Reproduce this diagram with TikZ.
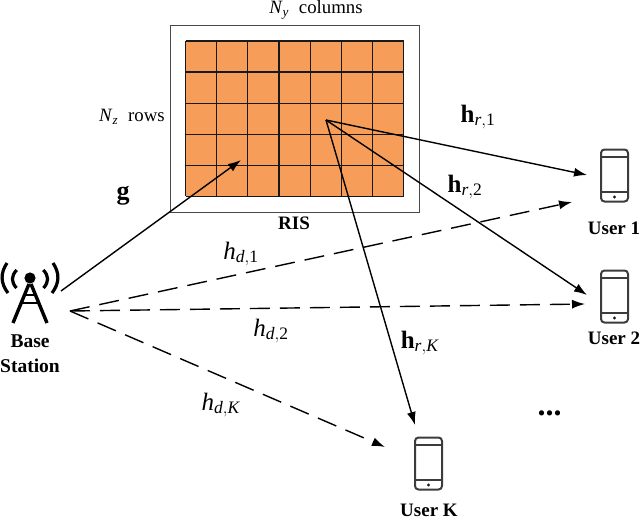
\documentclass[tikz,border=0pt]{standalone}
\usepackage{amsmath}
\usepackage{fontspec}
\setmainfont{Liberation Serif}
\usetikzlibrary{arrows.meta}
\newcommand{\hbf}[2]{$\text{\textbf{h}}_{\text{\textit{#1}},\text{#2}}$}
\newcommand{\hit}[2]{$\text{\textit{h}}_{\text{\textit{#1}},\text{#2}}$}
\definecolor{risorange}{HTML}{F79D5A}
\definecolor{ink}{HTML}{1A1A1A}
\tikzset{
  x=1pt,y=-1pt,
  link/.style={draw=black,line width=1.4pt,-{Latex[length=13pt,width=9pt]}},
  dlink/.style={link,dash pattern=on 20pt off 10pt},
  lab/.style={inner sep=0pt,font=\fontsize{25}{27}\selectfont},
  boldcap/.style={inner sep=0pt,font=\fontsize{19}{21}\selectfont\bfseries},
  dimtext/.style={inner sep=0pt,font=\fontsize{18.8}{21}\selectfont},
  phoneline/.style={draw=ink!85!white,line width=2pt},
  cellline/.style={draw=black!90,line width=1.2pt},
}
\newcommand{\phone}[3]{%
  \node[phoneline,rounded corners=3.5pt,minimum width=27pt,minimum height=52pt,inner sep=0pt] (#3) at (#1,#2) {};
  \draw[phoneline] ([yshift=-8pt]#3.north west) -- ([yshift=-8pt]#3.north east);
  \draw[phoneline] ([yshift=10.5pt]#3.south west) -- ([yshift=10.5pt]#3.south east);
  \fill[ink] ([yshift=5.5pt]#3.south) circle (1.6pt);
}
\begin{document}
\begin{tikzpicture}
\useasboundingbox (0,0) rectangle (640,519);
% RIS
\node[draw=ink!80!white,line width=0.9pt,minimum width=249pt,minimum height=187pt,inner sep=0pt] (panel) at (294.5,118.5) {};
\fill[risorange] (185.5,41) rectangle (403.7,196.3);
\foreach \i in {0,...,7}{\draw[cellline] ({185.5+\i*31.17},41) -- ({185.5+\i*31.17},196.3);}
\foreach \j in {0,...,5}{\draw[cellline] (185.5,{41+\j*31.06}) -- (403.7,{41+\j*31.06});}
\node[dimtext] (ny) at (316,10) {$\text{\textit{N}}_{\text{\textit{y}}}$\; columns};
\node[dimtext] (nz) at (132,117) {$\text{\textit{N}}_{\text{\textit{z}}}$\; rows};
\node[boldcap] (ris) at (294,223) {RIS};
% Base station
\fill[black] (30,278) circle (5.6pt);
\draw[black,line width=3.4pt] (29,284) -- (13,323) (31,284) -- (47,323);
\draw[black,line width=2.4pt] (25,295) -- (35,295) (21,303) -- (39,303);
\draw[black,line width=3.2pt] (16.7,270) .. controls (11,276) and (11,282) .. (16.5,288);
\draw[black,line width=3.2pt] (43.3,270) .. controls (49,276) and (49,282) .. (43.5,288);
\draw[black,line width=3.2pt] (7,263) .. controls (0.3,273) and (0.3,283) .. (8,293);
\draw[black,line width=3.2pt] (53,263) .. controls (59.7,273) and (59.7,283) .. (52,293);
\node[boldcap,align=center,font=\fontsize{19.5}{25}\selectfont\bfseries] (bslabel) at (30,354) {Base\\Station};
% Users
\phone{614.5}{175.5}{u1}
\phone{614.5}{296.5}{u2}
\phone{428.5}{463.5}{uk}
\node[boldcap] (u1l) at (614,228) {User 1};
\node[boldcap] (u2l) at (614,338) {User 2};
\node[boldcap] (ukl) at (429,510) {User K};
\node[inner sep=0pt,font=\fontsize{32}{34}\selectfont\bfseries] (dots) at (549.5,413) {...};
% Links
\coordinate (gs) at (61,291);
\coordinate (ge) at (241,160);
\coordinate (rc) at (326,120);
\coordinate (d0) at (70,311);
\coordinate (r1) at (587,175);
\coordinate (r2) at (587,295);
\coordinate (rk) at (415,425);
\coordinate (d1) at (572,202);
\coordinate (d2) at (585,304);
\coordinate (dk) at (385,447);
\draw[link] (gs) -- (ge);
\draw[link] (rc) -- (r1);
\draw[link] (rc) -- (r2);
\draw[link] (rc) -- (rk);
\draw[dlink] (d0) -- (d1);
\draw[dlink] (d0) -- (d2);
\draw[dlink] (d0) -- (dk);
% Labels
\node[lab,font=\fontsize{26}{28}\selectfont\bfseries] (g) at (123,196) {g};
\node[lab] (hr1) at (478,117) {\hbf{r}{1}};
\node[lab] (hr2) at (465,187) {\hbf{r}{2}};
\node[lab] (hrk) at (420,343) {\hbf{r}{\textit{K}}};
\node[lab] (hd1) at (241,254) {\hit{d}{1}};
\node[lab] (hd2) at (271,331) {\hit{d}{2}};
\node[lab] (hdk) at (221,405) {\hit{d}{\textit{K}}};
\end{tikzpicture}
\end{document}
